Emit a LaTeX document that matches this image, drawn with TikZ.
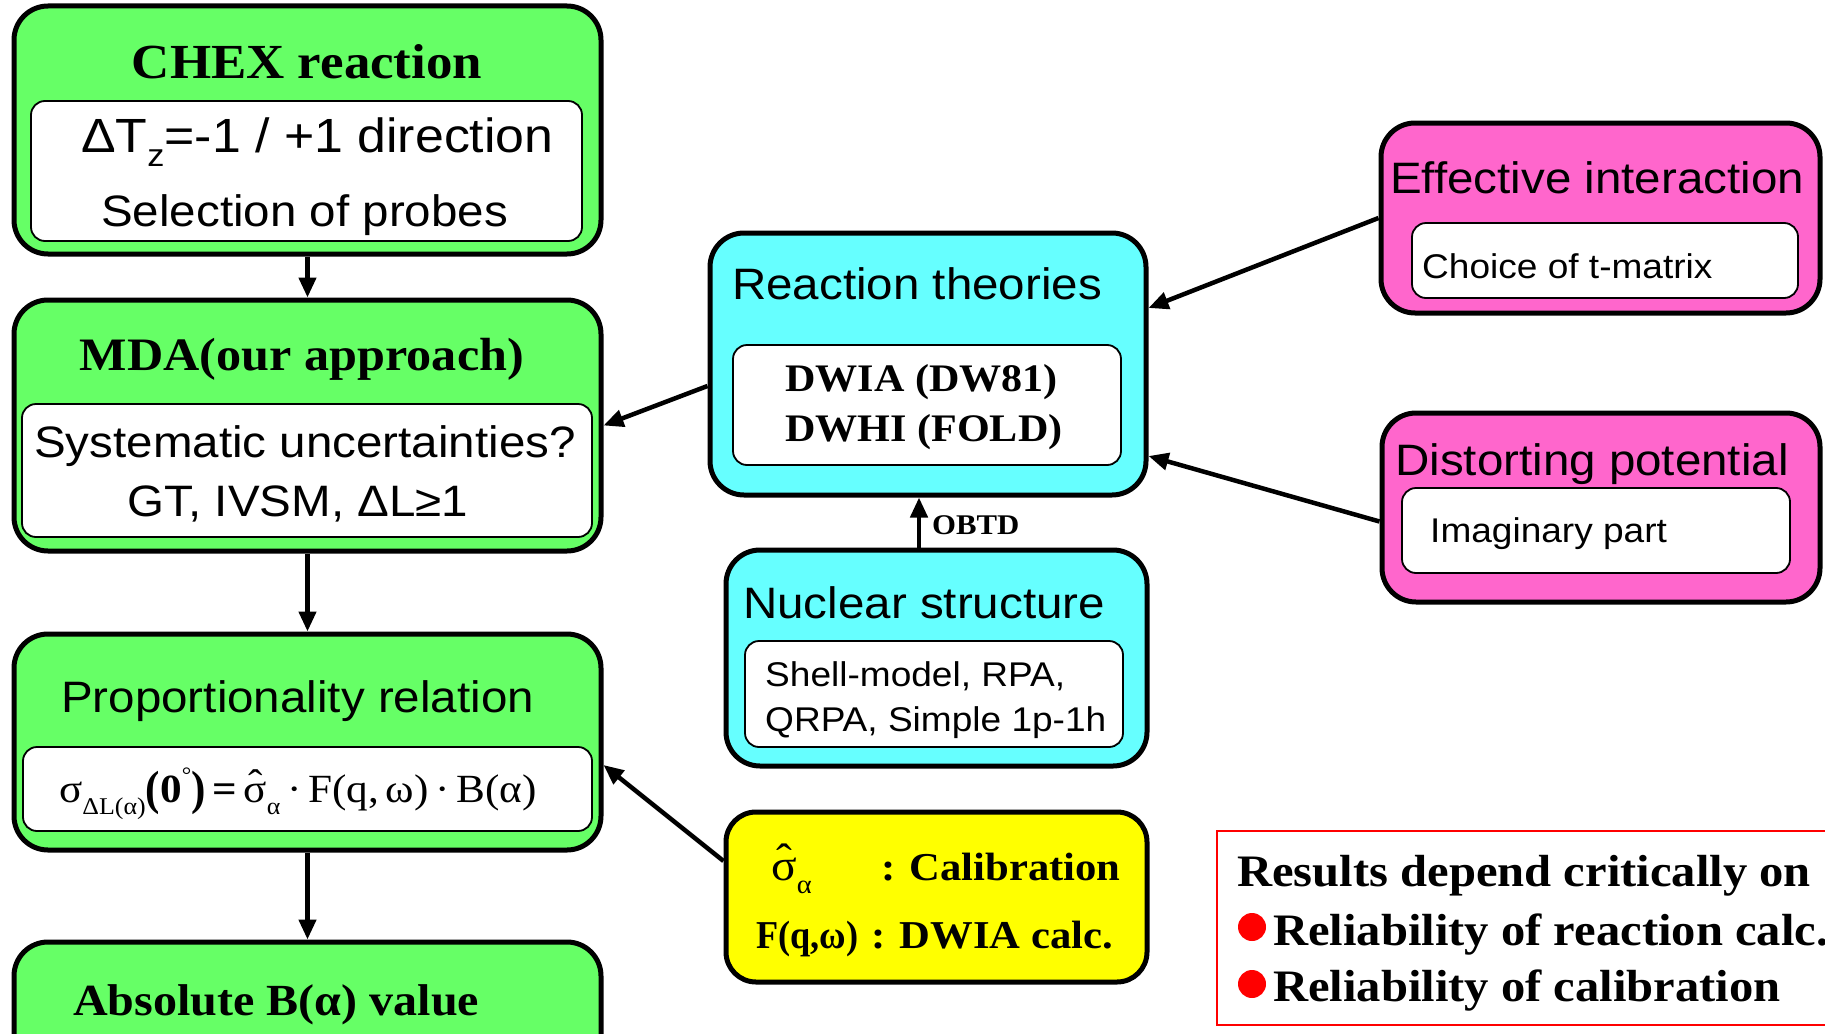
\documentclass[tikz,border=0pt]{standalone}
\usepackage{fontspec}
\setmainfont{Liberation Serif}[FakeStretch=1.08]
\newfontfamily\arialfam{Liberation Sans}[FakeStretch=1.08]
\usetikzlibrary{arrows.meta,calc}
\definecolor{gfill}{HTML}{66FF66}
\definecolor{cfill}{HTML}{66FFFF}
\definecolor{pfill}{HTML}{FF66CC}
\definecolor{yfill}{HTML}{FFFF00}
\definecolor{rline}{HTML}{FF0000}
\newcommand\Tbf[1]{\fontsize{#1}{#1}\selectfont\bfseries}
\newcommand\Trm[1]{\fontsize{#1}{#1}\selectfont}
\newcommand\Ari[1]{\arialfam\fontsize{#1}{#1}\selectfont}
\newcommand\sbs[1]{\raisebox{-0.3em}{\scalebox{0.6}{#1}}}
\newcommand\shat{\ooalign{σ\cr\hidewidth\raisebox{0.12em}{ˆ}\hidewidth\cr}}
\newcommand\bigpar[1]{{\bfseries\raisebox{-0.06em}{\scalebox{1}[1.2]{#1}}}}
\tikzset{
  outerbox/.style={draw=black, line width=5pt, rounded corners=34pt, inner sep=0pt},
  greenbox/.style={outerbox, fill=gfill},
  cyanbox/.style={outerbox, fill=cfill},
  pinkbox/.style={outerbox, fill=pfill},
  yellowbox/.style={outerbox, fill=yfill, rounded corners=30pt},
  innerbox/.style={draw=black, line width=1.8pt, fill=white, rounded corners=14pt, inner sep=0pt},
  redbox/.style={draw=rline, line width=2.5pt, inner sep=0pt},
  arr/.style={line width=4.5pt, -{Triangle[length=20pt,width=17pt]}},
  lbl/.style={inner sep=0pt, anchor=base},
  lblw/.style={inner sep=0pt, anchor=base west},
}
\begin{document}
\begin{tikzpicture}[x=1pt,y=-1pt]
\useasboundingbox (0,0) rectangle (1825,1033);
\clip (0,0) rectangle (1825,1033);
\fill[white] (0,0) rectangle (1825,1033);

% ---------- left column ----------
\node[greenbox, minimum width=587pt, minimum height=248pt] (chex) at (307.5,130) {};
\node[innerbox, minimum width=551pt, minimum height=140pt] (chexin) at (306.5,171) {};
\node[lbl, font=\Tbf{49}] (chext) at (307,78) {CHEX reaction};
\node[lblw, font=\Ari{48}] (chex1) at (81,152) {ΔT\sbs{\scalebox{1.1}{z}}=-1 / +1 direction};
\node[lblw, font=\Ari{44}] (chex2) at (101,226) {Selection of probes};

\node[greenbox, minimum width=587pt, minimum height=251pt] (mda) at (307.5,425.5) {};
\node[innerbox, minimum width=570pt, minimum height=133pt] (mdain) at (307,470.5) {};
\node[lbl, font=\Tbf{46.5}] (mdat) at (302,370) {MDA(our approach)};
\node[lbl, font=\Ari{44}] (mda1) at (305,457) {Systematic uncertainties?};
\node[lbl, font=\Ari{44}] (mda2) at (298,516) {GT, IVSM, ΔL≥1};

\node[greenbox, minimum width=587pt, minimum height=216pt] (prop) at (307.5,742) {};
\node[innerbox, minimum width=569pt, minimum height=84pt] (propin) at (307.5,789) {};
\node[lblw, font=\Ari{44}] (propt) at (61,712) {Proportionality relation};
\node[lblw, font=\Trm{40}] (form) at (59,802)
  {σ\sbs{ΔL(α)}\bigpar{(}{\bfseries 0}\raisebox{0.5em}{\scalebox{0.55}{°}}\bigpar{)}\,{\bfseries =}\,\shat\sbs{α}\,·\,F(q,\,ω)\,·\,B(α)};

\node[greenbox, minimum width=587pt, minimum height=138pt] (abs) at (307.5,1011) {};
\node[lblw, font=\Tbf{44.5}] (abst) at (73,1015) {Absolute B(α) value};

\draw[arr] (chex.south) -- (mda.north);
\draw[arr] (mda.south) -- (prop.north);
\draw[arr] (prop.south) -- (abs.north);

% ---------- middle column ----------
\node[cyanbox, minimum width=436pt, minimum height=262pt] (rt) at (928,364) {};
\node[innerbox, minimum width=388pt, minimum height=120pt] (rtin) at (927,405) {};
\node[lblw, font=\Ari{44}] (rtt) at (732,299) {Reaction theories};
\node[lblw, font=\Tbf{39}] (rt1) at (785,391) {DWIA (DW81)};
\node[lblw, font=\Tbf{39}] (rt2) at (785,441) {DWHI (FOLD)};

\node[cyanbox, minimum width=421pt, minimum height=216pt] (nuc) at (936.5,658) {};
\node[innerbox, minimum width=378pt, minimum height=106pt] (nucin) at (934,694) {};
\node[lblw, font=\Ari{44}] (nuct) at (743,618) {Nuclear structure};
\node[lblw, font=\Ari{34.3}] (nuc1) at (765,686) {Shell-model, RPA,};
\node[lblw, font=\Ari{34.3}] (nuc2) at (765,731) {QRPA, Simple 1p-1h};

\draw[arr] ($(nuc.north)+(-17.5,0)$) -- ($(rt.south)+(-9,0)$);
\node[lblw, font=\Tbf{28.5}] (obtd) at (932,534) {OBTD};

\node[yellowbox, minimum width=421pt, minimum height=170pt] (yel) at (936.5,897) {};
\node[lblw, font=\Trm{44}] (yel1a) at (771,880) {\shat\sbs{α}};
\node[lblw, font=\Tbf{39.5}] (yel1b) at (881,880) {: Calibration};
\node[lblw, font=\Tbf{39.5}] (yel2a) at (756,948) {\scalebox{0.85}[1]{F(q,ω)}};
\node[lblw, font=\Tbf{39.5}] (yel2b) at (871,948) {: DWIA calc.};

% ---------- right column ----------
\node[pinkbox, minimum width=439pt, minimum height=190pt] (eff) at (1600.5,218) {};
\node[innerbox, minimum width=386pt, minimum height=75pt] (effin) at (1605,260.5) {};
\node[lblw, font=\Ari{44}] (efft) at (1390,193) {Effective interaction};
\node[lblw, font=\Ari{34.3}] (eff1) at (1422,278) {Choice of t-matrix};

\node[pinkbox, minimum width=438pt, minimum height=189pt] (dist) at (1601,507.5) {};
\node[innerbox, minimum width=388pt, minimum height=85pt] (distin) at (1596,530.5) {};
\node[lblw, font=\Ari{44}] (distt) at (1395,475) {Distorting potential};
\node[lblw, font=\Ari{34.3}] (dist1) at (1430,542) {Imaginary part};

\node[redbox, minimum width=623pt, minimum height=194pt] (res) at (1528.5,928) {};
\node[lblw, font=\Tbf{45}] (res0) at (1237,886) {Results depend critically on};
\fill[rline] (1252,927) circle (14);
\node[lblw, font=\Tbf{45}] (res1) at (1273,945) {Reliability of reaction calc.};
\fill[rline] (1252,984) circle (14);
\node[lblw, font=\Tbf{45}] (res2) at (1273,1001) {Reliability of calibration};

% ---------- slanted connectors ----------
\draw[arr] ($(rt.west)+(0,22)$) -- (mda.east);
\draw[arr] (eff.west) -- ($(rt.east)+(0,-56)$);
\draw[arr] ($(dist.west)+(0,14)$) -- ($(rt.east)+(0,92)$);
\draw[arr] ($(yel.west)+(0,-36)$) -- ($(prop.east)+(0,23)$);
\end{tikzpicture}
\end{document}
